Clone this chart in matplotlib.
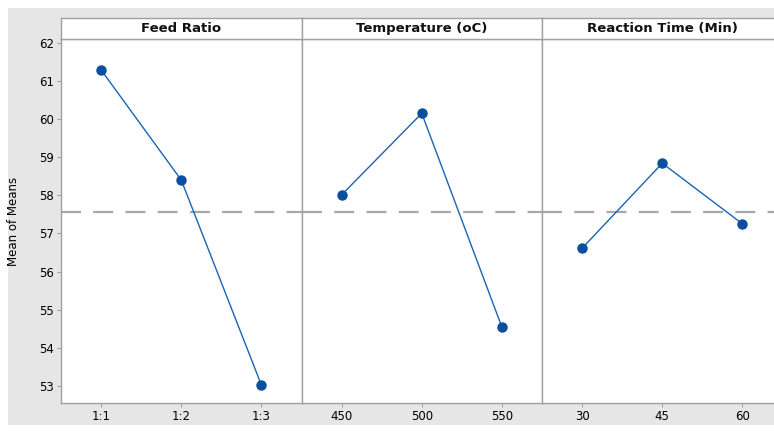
import numpy as np
import matplotlib
matplotlib.use("Agg")
import matplotlib.pyplot as plt
from matplotlib.patches import Rectangle

# main effects plot data (means)
factors = ["Feed Ratio", "Temperature (oC)", "Reaction Time (Min)"]
levels_feed = ["1:1", "1:2", "1:3"]
levels_temp = ["450", "500", "550"]
levels_time = ["30", "45", "60"]
means_feed = [61.29, 58.40, 53.02]
means_temp = [58.01, 60.15, 54.54]
means_time = [56.61, 58.84, 57.25]
grand_mean = 57.57

W, H = 774, 434
fig = plt.figure(figsize=(W / 100, H / 100), dpi=100)
fig.patch.set_facecolor("white")
fig.patches.append(Rectangle((8 / W, (H - 425) / H), 1, (425 - 8) / H,
                             transform=fig.transFigure, facecolor="#e6e6e6",
                             edgecolor="none", zorder=-5))

frame = "#a0a0a0"
line_c = "#1a64b4"
mark_c = "#0a4f9e"

x0, pw = 61, 240.5
bot, top, strip_top = 403, 39, 18

levels = [levels_feed, levels_temp, levels_time]
means = [means_feed, means_temp, means_time]

for i in range(3):
    left = x0 + i * pw
    ax = fig.add_axes([left / W, (H - bot) / H, pw / W, (bot - top) / H])
    ax.plot([1, 2, 3], means[i], color=line_c, lw=1.0, marker="o",
            markersize=6.5, markerfacecolor=mark_c, markeredgecolor=mark_c)
    ax.axhline(grand_mean, color="#a8a8a8", lw=1.6, ls=(0, (9, 5.5)), zorder=0)
    ax.set_xlim(0.5, 3.5)
    ax.set_ylim(52.55, 62.1)
    ax.set_xticks([1, 2, 3])
    ax.set_xticklabels(levels[i], fontsize=8.5)
    ax.set_yticks(np.arange(53, 63, 1))
    ax.tick_params(axis="both", color=frame, length=3, width=0.8, pad=2)
    if i == 0:
        ax.set_yticklabels([str(v) for v in range(53, 63)], fontsize=8.5)
        ax.set_ylabel("Mean of Means", fontsize=8.5, labelpad=14)
    else:
        ax.tick_params(axis="y", left=False, labelleft=False)
    for s in ax.spines.values():
        s.set_color(frame)
        s.set_linewidth(1.0)

    # strip header
    st = fig.add_axes([left / W, (H - top) / H, pw / W, (top - strip_top) / H])
    st.set_xticks([])
    st.set_yticks([])
    for s in st.spines.values():
        s.set_color(frame)
        s.set_linewidth(1.0)
    st.text(0.5, 0.48, factors[i], ha="center", va="center", fontsize=9.5,
            fontweight="bold", color="#111111", transform=st.transAxes)

fig.savefig("out.png", dpi=100)
